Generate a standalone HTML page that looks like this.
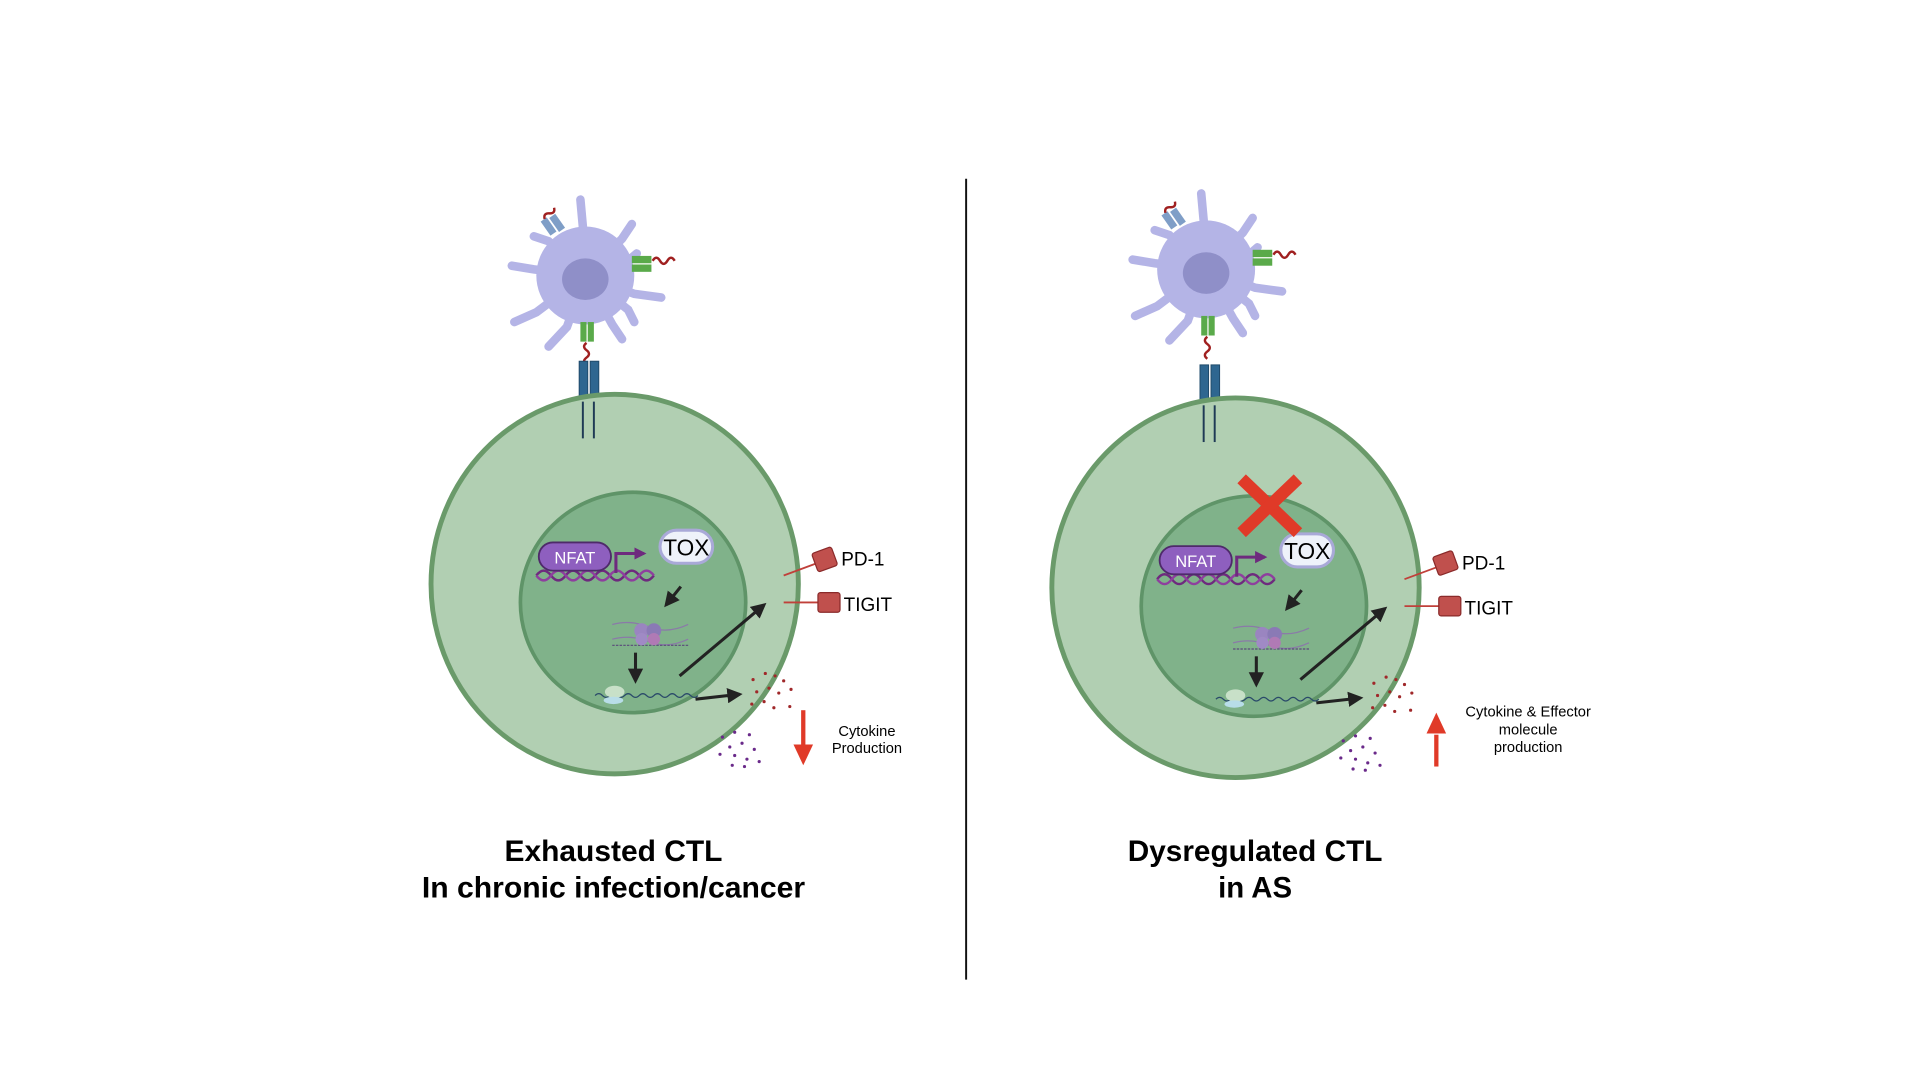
<!DOCTYPE html>
<html><head><meta charset="utf-8"><style>
html,body{margin:0;padding:0;background:#fff;}
svg{display:block;}
text{font-family:"Liberation Sans",Arial,sans-serif;}
</style></head><body>
<svg width="1920" height="1080" viewBox="0 0 1568 882" xmlns="http://www.w3.org/2000/svg">
<defs>
<marker id="ah" viewBox="0 0 10 10" refX="8" refY="5" markerWidth="5" markerHeight="5" orient="auto"><path d="M0,0 L10,5 L0,10 z" fill="#222"/></marker>
<marker id="pa" viewBox="0 0 10 10" refX="8" refY="5" markerWidth="4" markerHeight="4" orient="auto"><path d="M0,0 L10,5 L0,10 z" fill="#6e2a7e"/></marker>
<g id="dc">
  <g stroke="#b4b4e6" stroke-width="7" stroke-linecap="round" fill="none">
    <path d="M0,0 L-2,-40 L-4,-62"/>
    <path d="M0,0 L30,-30 L38,-42"/>
    <path d="M0,0 L35,-12 L42,-18"/>
    <path d="M0,0 L40,15 L62,18"/>
    <path d="M0,0 L35,28 L40,38"/>
    <path d="M0,0 L22,40 L30,52"/>
    <path d="M0,0 L-15,42 L-30,58"/>
    <path d="M0,0 L-40,30 L-58,38"/>
    <path d="M0,0 L-42,-5 L-60,-8"/>
    <path d="M0,0 L-30,-28 L-42,-32"/>
  </g>
  <circle cx="0" cy="0" r="40" fill="#b4b4e6"/>
  <ellipse cx="0" cy="3" rx="19" ry="17" fill="#8f8fc8"/>
  <rect x="-33" y="-47" width="6" height="14" fill="#7f9ec7" transform="rotate(-35 -30 -40)"/>
  <rect x="-26" y="-50" width="6" height="14" fill="#7f9ec7" transform="rotate(-35 -23 -43)"/>
  <path d="M-35,-50 q3,-4 6,0 t6,0" stroke="#a02020" stroke-width="2" fill="none" transform="rotate(-50 -30 -50)"/>
  <rect x="38" y="-16" width="16" height="6" fill="#5aaa4a"/>
  <rect x="38" y="-9" width="16" height="6" fill="#5aaa4a"/>
  <path d="M55,-12 q3,-5 6,0 t6,0 t6,0" stroke="#a02020" stroke-width="2" fill="none"/>
  <rect x="-4" y="38" width="5" height="16" fill="#5aaa4a"/>
  <rect x="2" y="38" width="5" height="16" fill="#5aaa4a"/>
  <path d="M1,55 q-4,3 0,6 t0,6 t0,6" stroke="#a02020" stroke-width="2" fill="none"/>
</g>
<g id="cell">
  <rect x="473" y="295" width="7" height="33" fill="#2e6690" stroke="#1f4a6a" stroke-width="0.8"/>
  <rect x="482" y="295" width="7" height="33" fill="#2e6690" stroke="#1f4a6a" stroke-width="0.8"/>
  <ellipse cx="502" cy="477" rx="150" ry="155" fill="#b1cfb2" stroke="#6a9a6a" stroke-width="4"/>
  <line x1="476" y1="328" x2="476" y2="358" stroke="#1f3a55" stroke-width="1.6"/>
  <line x1="485" y1="328" x2="485" y2="358" stroke="#1f3a55" stroke-width="1.6"/>
  <ellipse cx="517" cy="492" rx="92" ry="90" fill="#80b28a" stroke="#5f9468" stroke-width="3"/>
  <path d="M438,470 q6,-8 12,0 t12,0 t12,0 t12,0 t12,0 t12,0 t12,0 t12,0" stroke="#6e2a7e" stroke-width="2" fill="none"/>
  <path d="M438,470 q6,8 12,0 t12,0 t12,0 t12,0 t12,0 t12,0 t12,0 t12,0" stroke="#8e3f9e" stroke-width="2" fill="none"/>
  <rect x="440" y="443" width="59" height="23" rx="11.5" fill="#8e5fbf" stroke="#4e2a6a" stroke-width="1.5"/>
  <text x="469.5" y="460" font-size="13.5" fill="#fff" text-anchor="middle">NFAT</text>
  <path d="M503,468 L503,452 L526,452" stroke="#6e2a7e" stroke-width="2.5" fill="none" marker-end="url(#pa)"/>
  <rect x="539" y="433" width="43" height="27" rx="13.5" fill="#eef2fa" stroke="#a9a9d8" stroke-width="2.5"/>
  <text x="560.5" y="453.5" font-size="18.5" fill="#000" text-anchor="middle">TOX</text>
  <line x1="556" y1="479" x2="544" y2="494" stroke="#222" stroke-width="2.5" marker-end="url(#ah)"/>
  <path d="M500,510 q15,-4 30,2 t32,-2 M500,522 q15,-4 30,2 t32,-2" stroke="#8a7aa8" stroke-width="1" fill="none"/>
  <line x1="500" y1="527" x2="562" y2="527" stroke="#5a4a7a" stroke-width="1" stroke-dasharray="2 1"/>
  <circle cx="524" cy="515" r="6" fill="#9a85c0"/><circle cx="534" cy="515" r="6" fill="#8a7ab5"/>
  <circle cx="524" cy="522" r="5" fill="#a08ac5"/><circle cx="534" cy="522" r="5" fill="#b07ab5"/>
  <line x1="519" y1="533" x2="519" y2="556" stroke="#222" stroke-width="2.5" marker-end="url(#ah)"/>
  <path d="M486,568 q3,-3 6,0 t6,0 t6,0 t6,0 t6,0 t6,0 t6,0 t6,0 t6,0 t6,0 t6,0 t6,0 t6,0 t6,0" stroke="#2a4a6a" stroke-width="1" fill="none"/>
  <ellipse cx="502" cy="565" rx="8" ry="5" fill="#c8e0c8"/><ellipse cx="501" cy="572" rx="8" ry="3" fill="#b8dde8"/>
  <line x1="555" y1="552" x2="624" y2="494" stroke="#222" stroke-width="2.5" marker-end="url(#ah)"/>
  <line x1="568" y1="571" x2="604" y2="567" stroke="#222" stroke-width="2.5" marker-end="url(#ah)"/>
  <line x1="640" y1="470" x2="667" y2="460" stroke="#c0403a" stroke-width="1.5"/>
  <rect x="665" y="449" width="17" height="16" rx="2" fill="#c0504d" stroke="#8a2a2a" stroke-width="1" transform="rotate(-20 673 457)"/>
  <line x1="640" y1="492" x2="668" y2="492" stroke="#c0403a" stroke-width="1.5"/>
  <rect x="668" y="484" width="18" height="16" rx="2" fill="#c0504d" stroke="#8a2a2a" stroke-width="1"/>
  <text x="687" y="462" font-size="15.5" fill="#000">PD-1</text>
  <text x="689" y="499" font-size="15.5" fill="#000">TIGIT</text>
  <g fill="#a0282a">
    <circle cx="615" cy="555" r="1.3"/><circle cx="625" cy="550" r="1.3"/><circle cx="633" cy="552" r="1.3"/><circle cx="640" cy="556" r="1.3"/>
    <circle cx="618" cy="565" r="1.3"/><circle cx="628" cy="562" r="1.3"/><circle cx="636" cy="566" r="1.3"/><circle cx="646" cy="563" r="1.3"/>
    <circle cx="614" cy="575" r="1.3"/><circle cx="624" cy="573" r="1.3"/><circle cx="632" cy="578" r="1.3"/><circle cx="645" cy="577" r="1.3"/>
  </g>
  <g fill="#6a2a8a">
    <circle cx="590" cy="602" r="1.3"/><circle cx="600" cy="598" r="1.3"/><circle cx="612" cy="600" r="1.3"/><circle cx="596" cy="610" r="1.3"/>
    <circle cx="606" cy="607" r="1.3"/><circle cx="616" cy="612" r="1.3"/><circle cx="588" cy="616" r="1.3"/><circle cx="600" cy="617" r="1.3"/>
    <circle cx="610" cy="620" r="1.3"/><circle cx="598" cy="625" r="1.3"/><circle cx="608" cy="626" r="1.3"/><circle cx="620" cy="622" r="1.3"/>
  </g>
</g>
</defs>

<use href="#dc" transform="translate(478,225)"/>
<use href="#cell"/>
<line x1="656" y1="580" x2="656" y2="610" stroke="#e03a28" stroke-width="3.5"/>
<path d="M648,608 L664,608 L656,625 z" fill="#e03a28"/>
<text x="708" y="601" font-size="12" text-anchor="middle">Cytokine</text>
<text x="708" y="615" font-size="12" text-anchor="middle">Production</text>
<text x="501" y="703" font-size="24" font-weight="bold" text-anchor="middle" textLength="178" lengthAdjust="spacingAndGlyphs">Exhausted CTL</text>
<text x="501" y="733" font-size="24" font-weight="bold" text-anchor="middle" textLength="313" lengthAdjust="spacingAndGlyphs">In chronic infection/cancer</text>

<line x1="789" y1="146" x2="789" y2="800" stroke="#111" stroke-width="1.6"/>

<use href="#dc" transform="translate(985,220)"/>
<g transform="translate(507,3)"><use href="#cell"/></g>
<g stroke="#e03a28" stroke-width="10" stroke-linecap="butt">
  <line x1="1014" y1="391" x2="1060" y2="435"/>
  <line x1="1060" y1="391" x2="1014" y2="435"/>
</g>
<line x1="1173" y1="600" x2="1173" y2="626" stroke="#e03a28" stroke-width="3.5"/>
<path d="M1165,599 L1181,599 L1173,582 z" fill="#e03a28"/>
<text x="1248" y="585" font-size="12" text-anchor="middle">Cytokine &amp; Effector</text>
<text x="1248" y="600" font-size="12" text-anchor="middle">molecule</text>
<text x="1248" y="614" font-size="12" text-anchor="middle">production</text>
<text x="1025" y="703" font-size="24" font-weight="bold" text-anchor="middle" textLength="208" lengthAdjust="spacingAndGlyphs">Dysregulated CTL</text>
<text x="1025" y="733" font-size="24" font-weight="bold" text-anchor="middle">in AS</text>
</svg>
</body></html>
